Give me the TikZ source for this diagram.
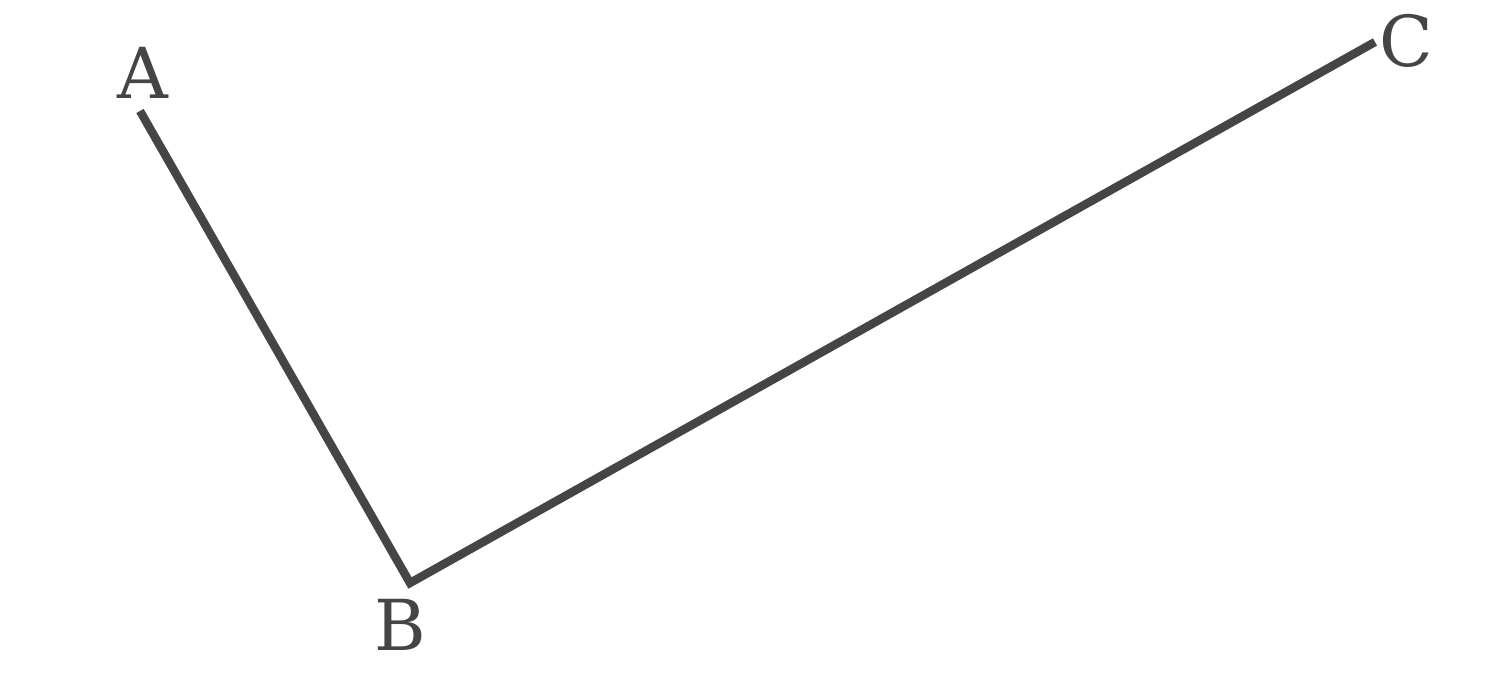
\documentclass[tikz,border=0pt]{standalone}
\usepackage{fontspec}
\setmainfont{DejaVu Serif}
\usepackage{tikz}
\usetikzlibrary{positioning}
\definecolor{linegray}{HTML}{454545}

\begin{document}
\begin{tikzpicture}[>=latex]
\useasboundingbox (0,0) rectangle (15.1,6.88);
\tikzset{pt/.style={text=linegray,font=\fontsize{20}{24}\selectfont,inner sep=0pt}}

\coordinate (A) at (1.40,5.77);
\coordinate (B) at (4.10,1.05);
\coordinate (C) at (13.75,6.46);

\node[pt] (LA) at (1.43,6.15) {A};
\node[pt] (LB) at (4.00,0.63) {B};
\node[pt] (LC) at (14.06,6.47) {C};

\draw[linegray,line width=2.4pt,miter limit=10] (A) -- (B) -- (C);
\end{tikzpicture}
\end{document}
